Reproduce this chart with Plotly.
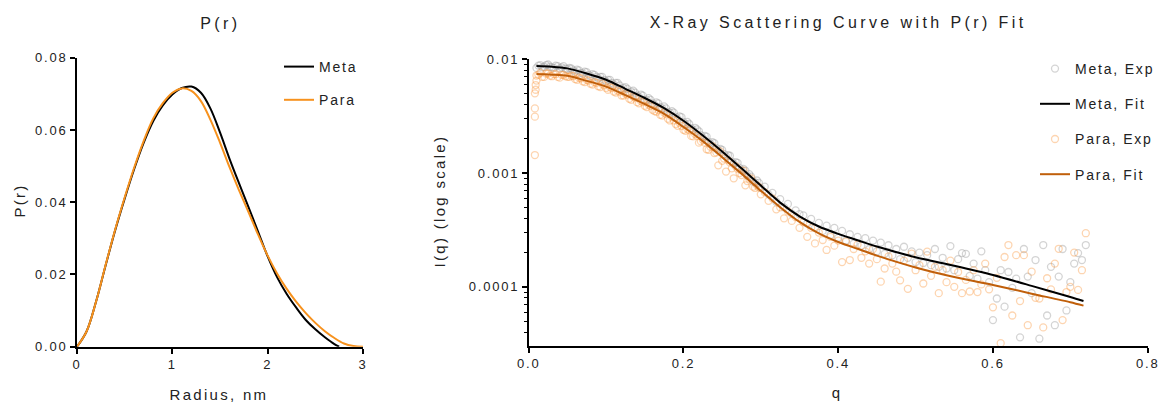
import plotly.graph_objects as go

W, H = 1162, 404


def px(x):
    return x / W


def py(y):
    return 1 - y / H


# ---------------- P(r) data ----------------
r_meta = [0.0, 0.1, 0.2, 0.3, 0.4, 0.5, 0.6, 0.7, 0.8, 0.9, 1.0, 1.1, 1.2, 1.3, 1.4,
          1.5, 1.6, 1.7, 1.8, 1.9, 2.0, 2.1, 2.2, 2.3, 2.4, 2.5, 2.6, 2.7, 2.75]
pr_meta = [0.0, 0.0042, 0.0125, 0.0225, 0.0322, 0.0410, 0.0492, 0.0565, 0.0625, 0.0668,
           0.0698, 0.0716, 0.0720, 0.0703, 0.0659, 0.0593, 0.0520, 0.0452, 0.0386,
           0.0318, 0.0250, 0.0192, 0.0146, 0.0108, 0.0074, 0.0048, 0.0026, 0.0007, 0.0]

r_para = [0.0, 0.1, 0.2, 0.3, 0.4, 0.5, 0.6, 0.7, 0.8, 0.9, 1.0, 1.1, 1.2, 1.3, 1.4, 1.5,
          1.6, 1.7, 1.8, 1.9, 2.0, 2.1, 2.2, 2.3, 2.4, 2.5, 2.6, 2.7, 2.8, 2.9, 3.0]
pr_para = [0.0, 0.0042, 0.0125, 0.0226, 0.0324, 0.0413, 0.0496, 0.0570, 0.0632, 0.0674,
           0.0703, 0.0715, 0.0708, 0.0680, 0.0628, 0.0565, 0.0497, 0.0433, 0.0372, 0.0310,
           0.0252, 0.0202, 0.0160, 0.0124, 0.0093, 0.0066, 0.0043, 0.0024, 0.0009, 0.0002, 0.0]

# ---------------- Scattering data ----------------
q_exp = [0.010, 0.015, 0.020, 0.025, 0.030, 0.035, 0.040, 0.045, 0.050,
         0.055, 0.060, 0.065, 0.070, 0.075, 0.080, 0.085, 0.090, 0.095, 0.100,
         0.105, 0.110, 0.115, 0.120, 0.125, 0.130, 0.135, 0.140, 0.145, 0.150,
         0.155, 0.160, 0.165, 0.170, 0.175, 0.180, 0.185, 0.190, 0.195, 0.200,
         0.205, 0.210, 0.215, 0.220, 0.225, 0.230, 0.235, 0.240, 0.245, 0.250,
         0.255, 0.260, 0.265, 0.270, 0.275, 0.280, 0.285, 0.290, 0.295, 0.300,
         0.305, 0.310, 0.315, 0.320, 0.325, 0.330, 0.335, 0.340, 0.345, 0.350,
         0.355, 0.360, 0.365, 0.370, 0.375, 0.380, 0.385, 0.390, 0.395, 0.400,
         0.405, 0.410, 0.415, 0.420, 0.425, 0.430, 0.435, 0.440, 0.445, 0.450,
         0.455, 0.460, 0.465, 0.470, 0.475, 0.480, 0.485, 0.490, 0.495, 0.500,
         0.505, 0.510, 0.515, 0.520, 0.525, 0.530, 0.535, 0.540, 0.545, 0.550,
         0.555, 0.560, 0.565, 0.570, 0.575, 0.580, 0.585, 0.590, 0.595, 0.600,
         0.605, 0.610, 0.615, 0.620, 0.625, 0.630, 0.635, 0.640, 0.645, 0.650,
         0.655, 0.660, 0.665, 0.670, 0.675, 0.680, 0.685, 0.690, 0.695, 0.700,
         0.705, 0.710, 0.715, 0.720]

meta_exp = [0.0084, 0.0089, 0.0086, 0.0090, 0.0085, 0.0088, 0.0083, 0.0087, 0.0082,
            0.0083, 0.0078, 0.0080, 0.0075, 0.0077, 0.0071, 0.0073, 0.0068, 0.0070, 0.0064,
            0.0066, 0.0060, 0.0062, 0.0055, 0.0057, 0.0051, 0.0053, 0.0048, 0.0049, 0.0044,
            0.00455, 0.00410, 0.00418, 0.00380, 0.00385, 0.00345, 0.00350, 0.00312, 0.00315, 0.00280,
            0.00282, 0.00248, 0.00250, 0.00233, 0.00205, 0.00209, 0.00180, 0.00183, 0.00158, 0.00160,
            0.00140, 0.00142, 0.00121, 0.00123, 0.00106, 0.00105, 0.00098, 0.00084, 0.00086, 0.00074,
            0.000760, 0.000650, 0.000670, 0.000560, 0.000590, 0.000500, 0.000535, 0.000440, 0.000470, 0.000435,
            0.000425, 0.000360, 0.000395, 0.000330, 0.000365, 0.000310, 0.000345, 0.000285, 0.000330, 0.000270,
            0.000310, 0.000255, 0.000290, 0.000240, 0.000275, 0.000230, 0.000268, 0.000215, 0.000255, 0.000205,
            0.000245, 0.000195, 0.000232, 0.000190, 0.000215, 0.000175, 0.000225, 0.000180, 0.000205, 0.000165,
            0.000200, 0.000162, 0.000190, 0.000155, 0.000215, 0.000150, 0.000180, 0.000145, 0.000228, 0.000140,
            0.000175, 0.000198, 0.000195, 0.000125, 0.000160, 0.000118, 0.000205, 0.000140, 0.000110, 0.000051,
            0.000079, 0.000140, 0.000067, 0.000135, 0.000098, 0.000118, 0.000036, 0.000215, 0.000123, 0.000088,
            0.000172, 0.000035, 0.000233, 0.000056, 0.000150, 0.000046, 0.000123, 0.000215, 0.000062, 0.000110,
            0.000160, 0.000198, 0.000172, 0.000233]

para_exp = [0.0072, 0.0076, 0.0070, 0.0075, 0.0071, 0.0074, 0.0069, 0.0073, 0.0070,
            0.0072, 0.0067, 0.0069, 0.0064, 0.0066, 0.0061, 0.0063, 0.0058, 0.0061, 0.0056,
            0.0057, 0.0052, 0.0053, 0.0048, 0.0050, 0.0045, 0.0047, 0.0042, 0.0043, 0.0039,
            0.00400, 0.00360, 0.00346, 0.00325, 0.00340, 0.00300, 0.00310, 0.00270, 0.00276, 0.00240,
            0.00245, 0.00212, 0.00220, 0.00185, 0.00196, 0.00162, 0.00170, 0.00150, 0.00117, 0.00128,
            0.00103, 0.00124, 0.00090, 0.00109, 0.00096, 0.00078, 0.00089, 0.00076, 0.00078, 0.00065,
            0.00068, 0.00057, 0.00060, 0.00048, 0.00050, 0.00040, 0.00046, 0.00038, 0.00041, 0.00033,
            0.000370, 0.000275, 0.000330, 0.000241, 0.000300, 0.000258, 0.000211, 0.000275, 0.000230, 0.000255,
            0.000165, 0.000250, 0.000172, 0.000215, 0.000235, 0.000180, 0.000205, 0.000160, 0.000215, 0.000175,
            0.000111, 0.000145, 0.000185, 0.000160, 0.000136, 0.000114, 0.000170, 0.000096, 0.000196, 0.000140,
            0.000155, 0.000107, 0.000204, 0.000125, 0.000150, 0.000088, 0.000140, 0.000110, 0.000170, 0.000100,
            0.000135, 0.000088, 0.000115, 0.000091, 0.000140, 0.000090, 0.000105, 0.000160, 0.000095, 0.000066,
            0.000120, 0.000032, 0.000183, 0.000233, 0.000056, 0.000190, 0.000075, 0.000190, 0.000046, 0.000136,
            0.000080, 0.000079, 0.000044, 0.000119, 0.000095, 0.000160, 0.000216, 0.000051, 0.000090, 0.000100,
            0.000200, 0.000094, 0.000140, 0.000296]

# interleaved low-q measurements (dense band)
q_exp_b = [0.0125, 0.0175, 0.0225, 0.0275, 0.0325, 0.0375, 0.0425, 0.0475, 0.0525, 0.0575,
           0.0625, 0.0675, 0.0725, 0.0775, 0.0825, 0.0875, 0.0925, 0.0975, 0.1025, 0.1075,
           0.1125, 0.1175, 0.1225, 0.1275, 0.1325, 0.1375, 0.1425, 0.1475, 0.1525, 0.1575,
           0.1625, 0.1675, 0.1725, 0.1775, 0.1825, 0.1875, 0.1925, 0.1975, 0.2025, 0.2075,
           0.2125, 0.2175, 0.2225, 0.2275, 0.2325, 0.2375, 0.2425, 0.2475, 0.2525, 0.2575,
           0.2625, 0.2675, 0.2725, 0.2775, 0.2825, 0.2875, 0.2925, 0.2975]
meta_exp_b = [0.0088, 0.0085, 0.0089, 0.0086, 0.0084, 0.0087, 0.0085, 0.0083, 0.0084, 0.0080,
              0.0081, 0.0076, 0.0078, 0.0073, 0.0074, 0.0070, 0.0070, 0.0066, 0.0066, 0.0062,
              0.0062, 0.0059, 0.0056, 0.0055, 0.0052, 0.0051, 0.0047, 0.0048, 0.0044, 0.0044,
              0.0040, 0.0041, 0.0037, 0.0037, 0.0034, 0.0034, 0.0030, 0.0031, 0.0027, 0.00270,
              0.00240, 0.00242, 0.00215, 0.00212, 0.00188, 0.00187, 0.00166, 0.00163, 0.00147, 0.00144,
              0.00126, 0.00125, 0.00111, 0.00109, 0.00095, 0.00093, 0.00083, 0.00082]
para_exp_b = [0.0073, 0.0070, 0.0075, 0.0072, 0.0074, 0.0070, 0.0073, 0.0071, 0.0070, 0.0071,
              0.0066, 0.0068, 0.0063, 0.0065, 0.0060, 0.0062, 0.0057, 0.0059, 0.0054, 0.0056,
              0.0051, 0.0052, 0.0048, 0.0049, 0.0044, 0.0046, 0.0041, 0.0042, 0.0038, 0.0039,
              0.0035, 0.0036, 0.0032, 0.0033, 0.0029, 0.0029, 0.0026, 0.0026, 0.00235, 0.00238,
              0.00210, 0.00212, 0.00190, 0.00185, 0.00160, 0.00172, 0.00152, 0.00155, 0.00134, 0.00130,
              0.00110, 0.00115, 0.00100, 0.00105, 0.00085, 0.00090, 0.00074, 0.00075]

q_para_low = [0.008, 0.008, 0.008, 0.008, 0.009, 0.009, 0.010]
para_exp_low = [0.00144, 0.00313, 0.00370, 0.00502, 0.00540, 0.00594, 0.00650]

q_fit = [0.010, 0.030, 0.050, 0.075, 0.100, 0.125, 0.150, 0.175, 0.200, 0.225, 0.250, 0.275,
         0.300, 0.325, 0.350, 0.375, 0.400, 0.425, 0.450, 0.500, 0.550, 0.600, 0.650, 0.700, 0.717]
meta_fit = [0.00871, 0.00861, 0.00832, 0.00750, 0.00661, 0.00550, 0.00457, 0.00372, 0.00288,
            0.00214, 0.00155, 0.00110, 0.000776, 0.000550, 0.000417, 0.000339, 0.000292,
            0.000257, 0.000226, 0.000182, 0.000153, 0.000127, 0.000102, 0.0000813, 0.0000750]
para_fit = [0.00741, 0.00733, 0.00716, 0.00646, 0.00575, 0.00484, 0.00403, 0.00331, 0.00254,
            0.00191, 0.00138, 0.000989, 0.000700, 0.000501, 0.000372, 0.000295, 0.000248,
            0.000216, 0.000188, 0.000148, 0.000122, 0.000104, 0.0000871, 0.0000733, 0.0000684]

y_ticks_log = [0.0001, 0.001, 0.01]
y_ticks_log_text = ["0.0001", "0.001", "0.01"]
y_minor_log = [0.00003, 0.00004, 0.00005, 0.00006, 0.00007, 0.00008, 0.00009,
               0.0002, 0.0003, 0.0004, 0.0005, 0.0006, 0.0007, 0.0008, 0.0009,
               0.002, 0.003, 0.004, 0.005, 0.006, 0.007, 0.008, 0.009]

FONT = "Liberation Sans, Arial, sans-serif"
TXT = "#222222"
BLACK = "#000000"
ORANGE_PR = "#F7921E"
ORANGE_FIT = "#C05F0A"
GRAY_PT = "rgba(160,160,160,0.45)"
ORANGE_PT = "rgba(250,150,60,0.40)"

fig = go.Figure()

# Left panel
fig.add_trace(go.Scatter(x=r_meta, y=pr_meta, mode="lines", name="Meta",
                         line=dict(color=BLACK, width=2, shape="spline", smoothing=1.0),
                         xaxis="x", yaxis="y", legend="legend", legendgroup="pm"))
fig.add_trace(go.Scatter(x=r_para, y=pr_para, mode="lines", name="Para",
                         line=dict(color=ORANGE_PR, width=2, shape="spline", smoothing=1.0),
                         xaxis="x", yaxis="y", legend="legend", legendgroup="pp"))

# Right panel
marker_gray = dict(symbol="circle-open", size=7, color=GRAY_PT, line=dict(width=1.3, color=GRAY_PT))
marker_orange = dict(symbol="circle-open", size=7, color=ORANGE_PT, line=dict(width=1.3, color=ORANGE_PT))

fig.add_trace(go.Scatter(x=q_exp + q_exp_b, y=meta_exp + meta_exp_b, mode="markers", name="Meta, Exp",
                         marker=marker_gray, xaxis="x2", yaxis="y2", legend="legend2",
                         legendgroup="me", legendrank=1))
fig.add_trace(go.Scatter(x=q_para_low + q_exp + q_exp_b, y=para_exp_low + para_exp + para_exp_b,
                         mode="markers", name="Para, Exp", marker=marker_orange, xaxis="x2", yaxis="y2",
                         legend="legend2", legendgroup="pe", legendrank=3))
fig.add_trace(go.Scatter(x=q_fit, y=meta_fit, mode="lines", name="Meta, Fit",
                         line=dict(color=BLACK, width=2, shape="spline", smoothing=0.8),
                         xaxis="x2", yaxis="y2", legend="legend2", legendgroup="mf", legendrank=2))
fig.add_trace(go.Scatter(x=q_fit, y=para_fit, mode="lines", name="Para, Fit",
                         line=dict(color=ORANGE_FIT, width=2, shape="spline", smoothing=0.8),
                         xaxis="x2", yaxis="y2", legend="legend2", legendgroup="pf", legendrank=4))

axis_common = dict(showline=True, linecolor=BLACK, linewidth=1.6, ticks="outside", ticklen=5,
                   tickwidth=1.6, tickcolor=BLACK, showgrid=False, zeroline=False,
                   tickfont=dict(family=FONT, size=13, color=TXT), automargin=False)

fig.update_layout(
    width=W, height=H,
    margin=dict(l=0, r=0, t=0, b=0),
    paper_bgcolor="white", plot_bgcolor="white",
    font=dict(family=FONT, color=TXT),
    xaxis=dict(domain=[px(77), px(363)], range=[0, 3], anchor="y",
               tickvals=[0, 1, 2, 3], ticktext=["0", "1", "2", "3"], **axis_common),
    yaxis=dict(domain=[py(346.7), py(57.7)], range=[0, 0.08], anchor="x",
               tickvals=[0, 0.02, 0.04, 0.06, 0.08], tickformat=".2f", **axis_common),
    xaxis2=dict(domain=[px(528.7), px(1147.7)], range=[0, 0.8], anchor="y2",
                tickvals=[0, 0.2, 0.4, 0.6, 0.8], tickformat=".1f", **axis_common),
    yaxis2=dict(domain=[py(346), py(59.3)], type="log", range=[-4.52, -2], anchor="x2",
                tickvals=y_ticks_log, ticktext=y_ticks_log_text,
                minor=dict(ticks="outside", ticklen=3, tickwidth=1.2, tickcolor=BLACK,
                           tickmode="array", tickvals=y_minor_log, showgrid=False),
                **axis_common),
    legend=dict(x=px(279), y=py(51), xanchor="left", yanchor="top",
                bgcolor="rgba(0,0,0,0)", font=dict(family=FONT, size=14, color=TXT),
                traceorder="grouped", tracegroupgap=12, itemwidth=30),
    legend2=dict(x=px(1035), y=py(53), xanchor="left", yanchor="top",
                 bgcolor="rgba(0,0,0,0)", font=dict(family=FONT, size=14, color=TXT),
                 traceorder="grouped", tracegroupgap=14, itemwidth=30),
    showlegend=True,
)

ann_font_title = dict(family=FONT, size=16, color=TXT)
ann_font_axis = dict(family=FONT, size=15, color=TXT)
annotations = [
    dict(text="P(r)", x=px(220), y=py(23), font=ann_font_title),
    dict(text="X-Ray Scattering Curve with P(r) Fit", x=px(838), y=py(22), font=ann_font_title),
    dict(text="Radius, nm", x=px(219), y=py(394), font=ann_font_axis),
    dict(text="q", x=px(837), y=py(392), font=ann_font_axis),
    dict(text="P(r)", x=px(19), y=py(201), font=ann_font_axis, textangle=-90),
    dict(text="I(q) (log scale)", x=px(439), y=py(201), font=ann_font_axis, textangle=-90),
]
for a in annotations:
    a.update(xref="paper", yref="paper", showarrow=False, xanchor="center", yanchor="middle")
fig.update_layout(annotations=annotations)

# Prism-style letter spacing; legend boxes are not clipped so the wider text shows in full.
post = """
var st = document.createElement('style');
st.textContent = 'text {letter-spacing:1.8px;}'
 + ' .scrollbox {clip-path:none !important;}'
 + ' .annotation[data-index="0"] text, .annotation[data-index="1"] text {letter-spacing:3.4px;}'
 + ' .annotation[data-index="2"] text, .annotation[data-index="3"] text,'
 + ' .annotation[data-index="4"] text, .annotation[data-index="5"] text {letter-spacing:2.3px;}';
document.head.appendChild(st);
"""

fig.write_html("out.html", post_script=post)
